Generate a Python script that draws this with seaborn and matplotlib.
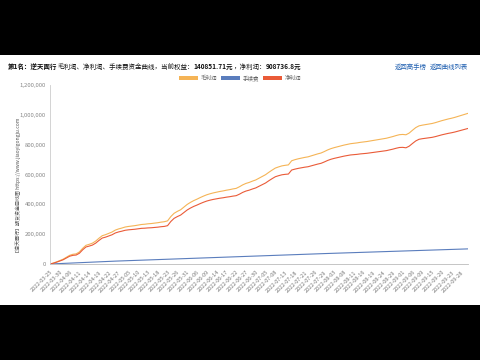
import matplotlib
matplotlib.use("Agg")
import matplotlib.pyplot as plt
from matplotlib.patches import Rectangle, Patch
from matplotlib.ticker import FuncFormatter
import seaborn as sns
import pandas as pd
import numpy as np

# ---------------- data ----------------
holidays = ["2022-04-04", "2022-04-05", "2022-05-02", "2022-05-03", "2022-05-04",
            "2022-06-03", "2022-09-12"]
days = [d for d in pd.bdate_range("2022-03-25", "2022-09-30")
        if d.strftime("%Y-%m-%d") not in holidays]
dates = [d.strftime("%Y-%m-%d") for d in days]

net_k = [0, 5, 12, 20, 28, 40, 52, 58, 60, 72, 95,
         114, 120, 127, 140, 158, 174, 180, 188, 196, 208,
         215, 220, 226, 229, 231, 233, 236, 239, 240, 242,
         243, 245, 247, 250, 252, 257, 285, 306, 318, 328,
         345, 362, 375, 386, 395, 405, 414, 422, 428, 433,
         437, 441, 444, 448, 451, 455, 458, 468, 480, 489,
         495, 503, 510, 521, 532, 543, 558, 572, 585, 592,
         598, 601, 603, 630, 636, 641, 645, 649, 652, 658,
         664, 670, 675, 684, 694, 702, 708, 713, 718, 723,
         727, 731, 733, 735, 738, 740, 742, 745, 748, 751,
         754, 757, 760, 765, 770, 776, 781, 782, 779, 790,
         808, 825, 836, 840, 843, 846, 849, 854, 860, 866,
         871, 876, 880, 885, 891, 897, 903, 908.7368]

fee_k = [0, 1.0, 2.1, 3.0, 4.1, 5.0, 6.0, 7.1, 8.0, 9.0, 10.1,
         11.0, 11.9, 12.8, 13.8, 14.8, 15.7, 16.6, 17.5, 18.4, 19.3,
         20.1, 21.0, 21.8, 22.6, 23.4, 24.2, 25.0, 25.8, 26.6, 27.4,
         28.2, 29.0, 29.8, 30.6, 31.4, 32.2, 33.0, 33.9, 34.8, 35.6,
         36.4, 37.2, 38.0, 38.8, 39.6, 40.4, 41.2, 42.0, 42.8, 43.6,
         44.4, 45.2, 45.9, 46.7, 47.4, 48.2, 48.9, 49.7, 50.4, 51.2,
         51.9, 52.7, 53.4, 54.2, 54.9, 55.7, 56.5, 57.3, 58.1, 58.9,
         59.7, 60.5, 61.3, 62.1, 63.4, 64.2, 64.9, 65.6, 66.3, 67.0,
         67.7, 68.4, 69.1, 69.8, 70.5, 71.2, 71.9, 72.6, 73.3, 74.0,
         74.7, 75.4, 76.1, 76.8, 77.5, 78.2, 78.9, 79.6, 80.3, 81.0,
         81.7, 82.4, 83.1, 83.8, 84.5, 85.2, 85.9, 86.6, 87.3, 88.0,
         88.7, 89.4, 90.1, 90.8, 91.5, 92.2, 92.9, 93.6, 94.3, 95.0,
         95.8, 96.6, 97.4, 98.2, 99.0, 99.8, 100.6, 101.4]

gross_k = [0, 6.0, 14.1, 23.0, 32.1, 45.0, 58.0, 65.1, 68.0, 81.0, 105.1,
           125.0, 131.9, 139.8, 153.8, 172.8, 189.7, 196.6, 205.5, 214.4, 227.3,
           235.1, 241.0, 247.8, 251.6, 254.4, 257.2, 261.0, 264.8, 266.6, 269.4,
           271.2, 274.0, 276.8, 280.6, 283.4, 289.2, 318.0, 339.9, 352.8, 363.6,
           381.4, 399.2, 413.0, 424.8, 434.6, 445.4, 455.2, 464.0, 470.8, 476.6,
           481.4, 486.2, 489.9, 494.7, 498.4, 503.2, 506.9, 517.7, 530.4, 540.2,
           546.9, 555.7, 563.4, 575.2, 586.9, 598.7, 614.5, 629.3, 643.1, 650.9,
           657.7, 661.5, 664.3, 692.1, 699.4, 705.2, 709.9, 714.6, 718.3, 725.0,
           731.7, 738.4, 744.1, 753.8, 764.5, 773.2, 779.9, 785.6, 791.3, 797.0,
           801.7, 806.4, 809.1, 811.8, 815.5, 818.2, 820.9, 824.6, 828.3, 832.0,
           835.7, 839.4, 843.1, 848.8, 854.5, 861.2, 866.9, 868.6, 866.3, 878.0,
           896.7, 914.4, 926.1, 930.8, 934.5, 938.2, 941.9, 947.6, 954.3, 961.0,
           966.8, 972.6, 977.4, 983.2, 990.0, 996.8, 1003.6, 1010.1]

series_names = ["毛利润", "手续费", "净利润"]
colors = ["#f5b456", "#5a7dbd", "#ea5b38"]
title_parts = [("第1名：逆天面行", "bold"), ("毛利润、净利润、手续费资金曲线，当前权益：", "normal"),
               ("140851.71元", "bold"), ("，净利润：", "normal"), ("908736.8元", "bold")]
links = ["返回高手榜", "返回曲线列表"]
ylabel = "【逆天面行】期货资金曲线图 https://www.jiaoyigongju.com"
yticks = [0, 200000, 400000, 600000, 800000, 1000000, 1200000]

# ---------------- plotting ----------------
sns.set_style("white")
plt.rcParams["font.family"] = ["Noto Sans CJK SC", "DejaVu Sans"]

rows = []
for name, vals in zip(series_names, [gross_k, fee_k, net_k]):
    for i, v in enumerate(vals):
        rows.append({"idx": i, "date": dates[i], "value": v * 1000, "series": name})
df = pd.DataFrame(rows)

fig = plt.figure(figsize=(4.8, 3.6), dpi=100, facecolor="black")
bg = Rectangle((0, 55 / 360), 1, 250 / 360, transform=fig.transFigure,
               facecolor="white", edgecolor="none", zorder=-10)
fig.patches.append(bg)

ax = fig.add_axes([50 / 480, 1 - 264 / 360, 418 / 480, 179 / 360])
ax.set_zorder(1)
ax.set_facecolor("white")
sns.lineplot(data=df, x="idx", y="value", hue="series", hue_order=series_names,
             palette=colors, linewidth=0.8, legend=False, ax=ax)

ax.set_xlim(0, len(dates) - 1)
ax.set_ylim(0, 1200000)
ax.set_yticks(yticks)
ax.yaxis.set_major_formatter(FuncFormatter(lambda v, p: f"{int(v):,}"))
tick_idx = list(range(0, len(dates), 3))
ax.set_xticks(tick_idx)
ax.set_xticklabels([dates[i] for i in tick_idx], rotation=45, ha="right",
                   rotation_mode="anchor", fontsize=4.0, color="#777777")
ax.tick_params(axis="y", labelsize=4.3, labelcolor="#888888", length=0, pad=3)
ax.tick_params(axis="x", length=2, width=0.4, color="#cccccc", pad=2)
ax.set_xlabel("")
ax.set_ylabel("")
for s in ["top", "right"]:
    ax.spines[s].set_visible(False)
ax.spines["left"].set_color("#cccccc")
ax.spines["left"].set_linewidth(0.6)
ax.spines["bottom"].set_color("#bbbbbb")
ax.spines["bottom"].set_linewidth(0.6)

fig.text(18 / 480, 1 - 186 / 360, ylabel, rotation=90, ha="center", va="center",
         fontsize=3.6, color="#555555")

# title pieces
fig.canvas.draw()
renderer = fig.canvas.get_renderer()
x = 8 / 480
ty = 1 - 67 / 360
for txt, w in title_parts:
    t = fig.text(x, ty, txt, fontsize=4.7, fontweight=w, color="#111111", ha="left", va="center")
    bb = t.get_window_extent(renderer=renderer)
    x += bb.width / fig.bbox.width

fig.text(395 / 480, ty, links[0], fontsize=4.6, color="#1f5fb0", ha="left", va="center")
fig.text(468 / 480, ty, links[1], fontsize=4.6, color="#1f5fb0", ha="right", va="center")

handles = [Patch(facecolor=c, edgecolor="none") for c in colors]
fig.legend(handles, series_names, loc="center", bbox_to_anchor=(0.5, 1 - 78 / 360),
           ncol=3, frameon=False, fontsize=4.0, handlelength=3.4, handleheight=0.9,
           handletextpad=0.4, columnspacing=0.8, labelcolor="#666666")

fig.savefig("out.png", dpi=100, facecolor="black")
